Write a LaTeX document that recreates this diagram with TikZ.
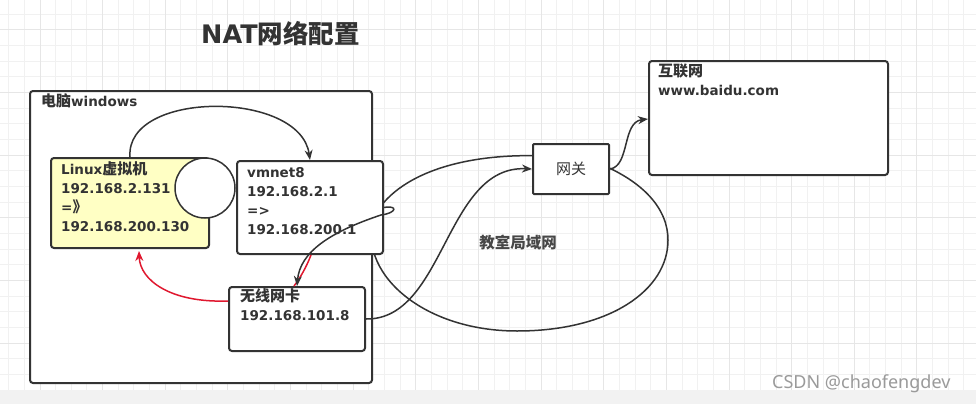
\documentclass[tikz,border=0pt]{standalone}
\usepackage{fontspec}
\setmainfont{DejaVu Sans}
\newfontfamily\cjk{Noto Sans CJK SC}
\newfontfamily\wmfont{Noto Sans}
\newcommand\zhtxt[1]{{\cjk\fontsize{15}{19}\selectfont #1}}
\usetikzlibrary{arrows.meta,calc}
\definecolor{ink}{HTML}{333333}
\definecolor{vmyellow}{HTML}{FFFFC4}
\definecolor{redline}{HTML}{E0182F}
\definecolor{gridminor}{HTML}{F1F1F1}
\definecolor{gridmajor}{HTML}{E6E6E6}
\definecolor{stripgray}{HTML}{F2F2F2}
\definecolor{wmgray}{HTML}{9A9A9A}
\tikzset{
  box/.style={draw=ink, line width=2pt, rounded corners=3pt, fill=white, inner sep=0pt, anchor=north west},
  txt/.style={anchor=base west, inner sep=0pt, text=ink, font=\bfseries\fontsize{13.5}{19}\selectfont},
  conn/.style={draw=ink, line width=1.5pt, -{Stealth[length=10pt,width=8pt]}},
  redconn/.style={draw=redline, line width=1.5pt},
}
\begin{document}
\begin{tikzpicture}[x=1pt,y=-1pt]
\useasboundingbox (0,0) rectangle (976,404);
\fill[white] (0,0) rectangle (976,404);
% grid
\foreach \i in {0,...,61} {\pgfmathsetmacro\gx{8.68+15.66*\i}
  \draw[gridminor, line width=1pt] (\gx,0) -- (\gx,390);}
\foreach \i in {0,...,24} {\pgfmathsetmacro\gy{14.34+15.66*\i}
  \draw[gridminor, line width=1pt] (0,\gy) -- (976,\gy);}
\foreach \i in {0,...,14} {\pgfmathsetmacro\gx{40+62.64*\i}
  \draw[gridmajor, line width=1pt] (\gx,0) -- (\gx,390);}
\foreach \i in {0,...,5} {\pgfmathsetmacro\gy{30+62.64*\i}
  \draw[gridmajor, line width=1pt] (0,\gy) -- (976,\gy);}
\fill[stripgray] (0,390) rectangle (976,404);

% title
\node[anchor=base west, inner sep=0pt, text=ink] (title) at (201,44)
  {\bfseries\fontsize{25.5}{30}\selectfont NAT{\cjk 网络配置}};

% classroom LAN (freehand ellipse)
\draw[ink, line width=1.5pt] (590,160) .. controls (480,145) and (400,170) .. (375,215)
  .. controls (355,270) and (420,331) .. (517,331)
  .. controls (610,331) and (668,290) .. (668,240)
  .. controls (668,210) and (645,180) .. (590,160) -- cycle;
\node[inner sep=0pt, text=ink!90!white, font=\cjk\bfseries\fontsize{15.5}{18}\selectfont] (lan) at (518,243) {教室局域网};

% host computer
\node[box, minimum width=342pt, minimum height=292pt] (host) at (29,90) {};
\node[txt] (hostlbl) at (41,106) {\zhtxt{电脑}windows};

% Linux VM
\node[box, fill=vmyellow, minimum width=158pt, minimum height=90pt] (linux) at (50,157) {};
\node[txt] (lx1) at (61,174) {Linux\zhtxt{虚拟机}};
\node[txt] (lx2) at (61,193) {192.168.2.131};
\node[txt] (lx3) at (61,212) {=\zhtxt{》}};
\node[txt] (lx4) at (61,231) {192.168.200.130};
\node[circle, draw=ink, line width=1.5pt, fill=white, minimum size=60pt, inner sep=0pt] (ring) at (205,188) {};

% vmnet8
\node[box, minimum width=146pt, minimum height=93pt] (vm) at (236,160) {};
\node[txt] (vm1) at (247,177) {vmnet8};
\node[txt] (vm2) at (247,196) {192.168.2.1};
\node[txt] (vm3) at (247,215) {=>};
\node[txt] (vm4) at (247,234) {192.168.200.1};

% wireless card
\node[box, minimum width=136pt, minimum height=64pt] (wifi) at (228,286) {};
\node[txt] (wf1) at (240,301) {\zhtxt{无线网卡}};
\node[txt] (wf2) at (240,320) {192.168.101.8};

% gateway
\node[box, rounded corners=1pt, minimum width=76pt, minimum height=50pt] (gw) at (532,143) {};
\node[inner sep=0pt, text=ink, font=\cjk\fontsize{15}{18}\selectfont] (gwlbl) at (gw.center) {网关};

% internet
\node[box, minimum width=239pt, minimum height=114pt] (inet) at (648,60) {};
\node[txt] (in1) at (658,77) {\zhtxt{互联网}};
\node[txt] (in2) at (658,95) {www.baidu.com};

% connectors
\draw[conn] (linux.north) .. controls (125,90) and (300,90) .. (vm.north);
\draw[redconn, -{Stealth[length=10pt,width=8pt]}] ($(wifi.north west)+(0,15)$) .. controls (170,303) and (140,280) .. ($(linux.south)+(9,2)$);
\draw[redconn] ($(vm.south)+(1,0)$) .. controls (306,268) and (300,278) .. ($(wifi.north)+(-3,0)$);
\draw[conn] (vm.east) .. controls (398,205) and (397,213) .. (381,215) .. controls (330,232) and (300,252) .. (wifi.north);
\draw[conn] (wifi.east) .. controls (445,320) and (445,165) .. (gw.west);
\draw[conn] (gw.east) .. controls (630,166) and (622,122) .. ($(inet.north west)+(0,59)$);

% watermark
\node[anchor=base west, inner sep=0pt, text=wmgray, font=\wmfont\fontsize{18}{20}\selectfont] (wm) at (772,388) {CSDN @chaofengdev};
\end{tikzpicture}
\end{document}
